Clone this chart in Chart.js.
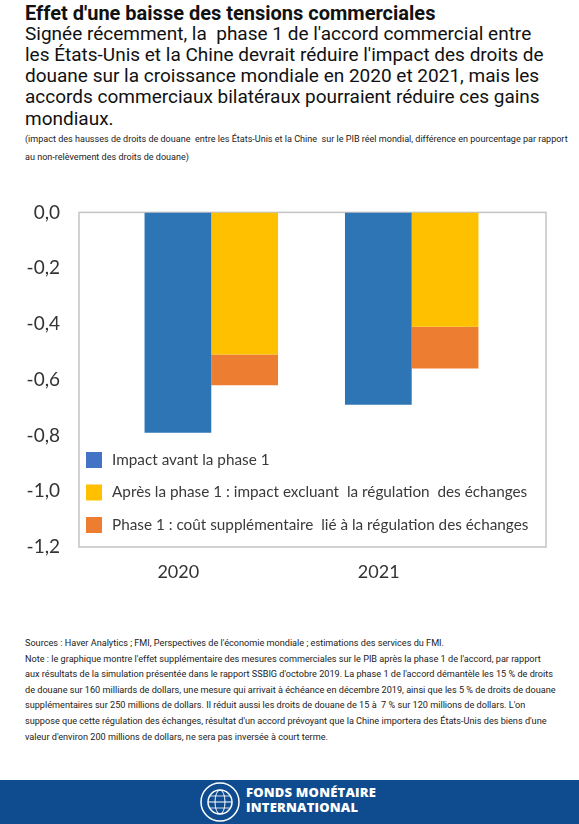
<!DOCTYPE html>
<html lang="fr">
<head>
<meta charset="utf-8">
<script src="https://cdn.jsdelivr.net/npm/chart.js@4.4.1/dist/chart.umd.min.js"></script>
<style>
  html, body { margin: 0; padding: 0; background: #fff; }
  body { width: 579px; height: 824px; position: relative; overflow: hidden; font-family: Roboto, "Noto Sans", sans-serif; color: #111; }
  .title { position: absolute; left: 25px; top: 2px; font-size: 20px; font-weight: 700; line-height: 23px; white-space: nowrap; }
  .subtitle { position: absolute; left: 25px; top: 22.5px; font-size: 19px; line-height: 21.3px; white-space: pre; }
  .units { position: absolute; left: 25px; top: 130px; font-size: 9.05px; line-height: 18px; white-space: pre; color: #222; }
  .chart-box { position: absolute; left: 0; top: 182px; width: 565px; height: 418px; }
  .notes { position: absolute; left: 25px; top: 636px; font-size: 9.15px; line-height: 15.6px; white-space: pre; color: #222; }
  .imf { position: absolute; left: 0; top: 780px; width: 579px; height: 44px; background: #0f4c8f; }
  .imf svg { position: absolute; left: 199px; top: 1px; }
  .imf .name { position: absolute; left: 246px; top: 5px; color: #fff; font-family: "Open Sans", sans-serif; font-weight: 800; font-size: 13px; line-height: 15px; letter-spacing: 0.2px; }
</style>
</head>
<body>
<div class="title">Effet d'une baisse des tensions commerciales</div>
<div class="subtitle">Signée récemment, la  phase 1 de l'accord commercial entre
les États-Unis et la Chine devrait réduire l'impact des droits de
douane sur la croissance mondiale en 2020 et 2021, mais les
accords commerciaux bilatéraux pourraient réduire ces gains
mondiaux.</div>
<div class="units">(impact des hausses de droits de douane  entre les États-Unis et la Chine  sur le PIB réel mondial, différence en pourcentage par rapport
au non-relèvement des droits de douane)</div>

<div class="chart-box"><canvas id="tradeChart"></canvas></div>

<div class="notes">Sources : Haver Analytics ; FMI, Perspectives de l'économie mondiale ; estimations des services du FMI.
Note : le graphique montre l'effet supplémentaire des mesures commerciales sur le PIB après la phase 1 de l'accord, par rapport
aux résultats de la simulation présentée dans le rapport SSBIG d'octobre 2019. La phase 1 de l'accord démantèle les 15 % de droits
de douane sur 160 milliards de dollars, une mesure qui arrivait à échéance en décembre 2019, ainsi que les 5 % de droits de douane
supplémentaires sur 250 millions de dollars. Il réduit aussi les droits de douane de 15 à  7 % sur 120 millions de dollars. L'on
suppose que cette régulation des échanges, résultat d'un accord prévoyant que la Chine importera des États-Unis des biens d'une
valeur d'environ 200 millions de dollars, ne sera pas inversée à court terme.</div>

<div class="imf">
  <svg width="42" height="42" viewBox="0 0 42 42">
    <circle cx="21" cy="21" r="19" fill="none" stroke="#fff" stroke-width="1.5"/>
    <circle cx="21" cy="21" r="12" fill="none" stroke="#fff" stroke-width="1.5"/>
    <ellipse cx="21" cy="21" rx="5" ry="12" fill="none" stroke="#fff" stroke-width="1"/>
    <line x1="9" y1="21" x2="33" y2="21" stroke="#fff" stroke-width="1"/>
    <line x1="11" y1="15" x2="31" y2="15" stroke="#fff" stroke-width="0.8"/>
    <line x1="11" y1="27" x2="31" y2="27" stroke="#fff" stroke-width="0.8"/>
  </svg>
  <div class="name">FONDS MONÉTAIRE<br>INTERNATIONAL</div>
</div>

<script>
const years = ['2020', '2021'];
const impactAvantPhase1 = [-0.79, -0.69];
const apresPhase1HorsRegulation = [-0.51, -0.41];
const coutRegulation = [-0.11, -0.15];
const yTicks = [0, -0.2, -0.4, -0.6, -0.8, -1.0, -1.2];

const seriesLabels = [
  'Impact avant la phase 1',
  'Après la phase 1 : impact excluant  la régulation  des échanges',
  'Phase 1 : coût supplémentaire  lié à la régulation des échanges'
];

// bars sit on a linear x axis so the two year groups land where the original puts them
const toPoints = (vals) => vals.map((v, i) => ({ x: i, y: v }));

const frameBox = {
  id: 'frameBox',
  beforeDatasetsDraw(chart) {
    const { ctx, chartArea: a } = chart;
    ctx.save();
    ctx.strokeStyle = '#c4c4c4';
    ctx.lineWidth = 1.5;
    ctx.strokeRect(a.left, a.top, a.right - a.left, a.bottom - a.top);
    ctx.restore();
  }
};

// legend drawn inside the plot, bottom-left, like the Excel original
const innerLegend = {
  id: 'innerLegend',
  afterDatasetsDraw(chart) {
    const { ctx, chartArea: a } = chart;
    const sets = chart.data.datasets;
    ctx.save();
    ctx.font = '15.3px Lato';
    ctx.textBaseline = 'middle';
    sets.forEach((ds, i) => {
      const y = a.bottom - 22 - (sets.length - 1 - i) * 32.5;
      ctx.fillStyle = ds.legendColor || ds.backgroundColor;
      ctx.fillRect(a.left + 7, y - 8, 16, 16);
      ctx.fillStyle = '#3a3a3a';
      ctx.fillText(ds.label, a.left + 33, y);
    });
    ctx.restore();
  }
};

const ctx = document.getElementById('tradeChart').getContext('2d');

const tradeChart = new Chart(ctx, {
  type: 'bar',
  data: {
    datasets: [
      {
        label: seriesLabels[0],
        data: toPoints(impactAvantPhase1),
        backgroundColor: '#2e75b6',
        legendColor: '#4472c4',
        stack: 'avant'
      },
      {
        label: seriesLabels[1],
        data: toPoints(apresPhase1HorsRegulation),
        backgroundColor: '#ffc000',
        stack: 'apres'
      },
      {
        label: seriesLabels[2],
        data: toPoints(coutRegulation),
        backgroundColor: '#ed7d31',
        stack: 'apres'
      }
    ]
  },
  options: {
    responsive: true,
    maintainAspectRatio: false,
    animation: false,
    categoryPercentage: 0.666,
    barPercentage: 1,
    layout: {
      padding: { left: 10, right: 19, top: 13, bottom: 0 }
    },
    scales: {
      x: {
        type: 'linear',
        offset: false,
        min: -0.66,
        max: 1.67,
        grid: { display: false, drawTicks: false },
        border: { display: false },
        afterBuildTicks(scale) {
          scale.ticks = years.map((_, i) => ({ value: i }));
        },
        afterFit(scale) {
          scale.height = 53;
        },
        ticks: {
          padding: 14,
          labelOffset: -33,
          color: '#333',
          font: { family: 'Lato', size: 18 },
          callback: (v) => years[v]
        }
      },
      y: {
        stacked: true,
        min: -1.2,
        max: 0,
        grid: { display: false, drawTicks: false },
        border: { display: false },
        afterBuildTicks(scale) {
          scale.ticks = yTicks.map((v) => ({ value: v }));
        },
        afterFit(scale) {
          scale.width = 69;
        },
        ticks: {
          padding: 19,
          color: '#333',
          font: { family: 'Lato', size: 19 },
          callback: (v) => v.toFixed(1).replace('.', ',').replace('-0,0', '0,0')
        }
      }
    },
    plugins: {
      legend: { display: false },
      tooltip: { enabled: false }
    }
  },
  plugins: [frameBox, innerLegend]
});
</script>
</body>
</html>
